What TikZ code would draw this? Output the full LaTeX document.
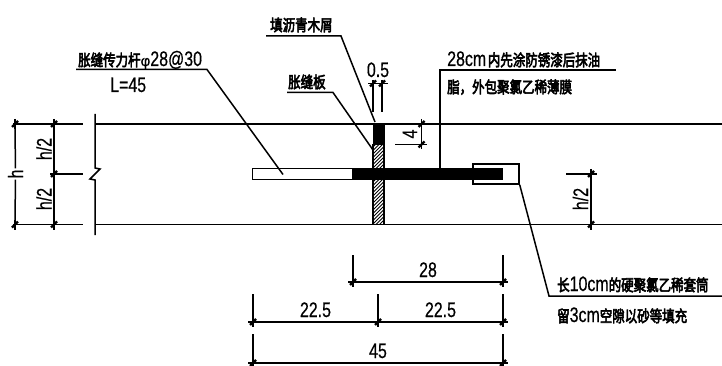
\documentclass[tikz,border=0pt]{standalone}
\usepackage{graphicx}
\usepackage{fontspec}
\setmainfont[FakeBold=0.5]{Liberation Sans}
\newfontfamily\nmf[FakeBold=0.5]{Liberation Sans}
\newfontfamily\cjkf[FakeBold=4]{Noto Sans CJK SC}
\newcommand{\zh}[1]{{\cjkf\fontsize{16}{16}\selectfont\scalebox{0.78}[1]{#1}}}
\newcommand{\nm}[1]{{\nmf\fontsize{21}{21}\selectfont\scalebox{0.76}[1]{#1}}}
\newcommand{\dtick}[1]{\draw[tickmark] ([shift={(-3,3)}]#1) -- ([shift={(3,-3)}]#1);}
\tikzset{
  ln/.style={line width=1.5pt,black},
  thin ln/.style={line width=1.4pt,black},
  tickmark/.style={line width=2.2pt,black},
  hatchline/.style={line width=0.8pt,black},
  lbl/.style={inner sep=0pt,anchor=base west},
  mid/.style={inner sep=0pt,anchor=base},
}
\begin{document}
\begin{tikzpicture}[x=1pt,y=-1pt]
\useasboundingbox (0,0) rectangle (722,366);
% slab
\coordinate (tl) at (13,124); \coordinate (tl2) at (83,124);
\coordinate (tr0) at (95,124); \coordinate (tr) at (722,124);
\coordinate (bl) at (13,224.5); \coordinate (bl2) at (83,224.5);
\coordinate (br0) at (95,224.5); \coordinate (br) at (722,224.5);
\coordinate (ml) at (50,174); \coordinate (ml2) at (83,174);
\draw[ln] (tl) -- (tl2) (tr0) -- (tr) (bl) -- (bl2) (br0) -- (br) (ml) -- (ml2);
\draw[ln] (95,114) -- (95,168) -- (100,169) -- (90,179) -- (95,180) -- (95,235);
% joint filler
\begin{scope}
\clip (373,144) rectangle (384,224.5);
\foreach \yy in {140,143.5,...,240}{\draw[hatchline] (373,\yy) -- (384,\yy-11);}
\end{scope}
\node[draw=black,line width=1.1pt,inner sep=0pt,minimum width=11pt,minimum height=80pt] (board) at (378.5,184.5) {};
\node[fill=black,inner sep=0pt,minimum width=12pt,minimum height=20pt] (fill) at (378.5,134) {};
% dowel
\node[draw=black,fill=white,line width=1.4pt,inner sep=0pt,minimum width=100pt,minimum height=10.5pt] (dowelw) at (302.5,174) {};
\node[fill=black,inner sep=0pt,minimum width=151pt,minimum height=12pt] (dowelb) at (427.5,174) {};
\node[draw=black,line width=1.4pt,inner sep=0pt,minimum width=46pt,minimum height=20pt] (sleeve) at (496,174) {};
% left dims
\coordinate (hT) at (15,124); \coordinate (hB) at (15,224.5);
\node[rotate=90,fill=white,inner sep=1pt,anchor=center] (hl) at (15.5,174) {\nm{h}};
\draw[ln] (hT) -- (hl) (hl) -- (hB);
\coordinate (h2T) at (54,124); \coordinate (h2M) at (54,174); \coordinate (h2B) at (54,224.5);
\draw[line width=1.8pt] (h2T) -- (h2M) -- (h2B);
\node[rotate=90,mid] (h2a) at (51.5,149) {\nm{h/2}};
\node[rotate=90,mid] (h2b) at (51.5,199) {\nm{h/2}};
\foreach \p in {hT,hB,h2T,h2M,h2B}{\dtick{\p}}
\draw[thin ln] (15,119) -- (15,129) (15,219.5) -- (15,229.5) (54,119) -- (54,129) (54,219.5) -- (54,229.5);
% leader 1
\coordinate (a0) at (76,69.5); \coordinate (a1) at (207,69.5); \coordinate (a2) at (283,174.5);
\draw[ln] (a0) -- (a1) -- (a2);
\node[lbl] (t1) at (78,66) {\zh{胀缝传力杆}{\nmf\fontsize{15}{15}\selectfont φ}\nm{28@30}};
\node[lbl] (t1b) at (110,92) {\nm{L=45}};
% leader 2
\coordinate (b0) at (266,36); \coordinate (b1) at (341,36); \coordinate (b2) at (375,122);
\draw[ln] (b0) -- (b1) -- (b2);
\node[lbl] (t2) at (270,31) {\zh{填沥青木屑}};
% leader 3
\coordinate (c0) at (287,92.5); \coordinate (c1) at (333,92.5); \coordinate (c2) at (373,150);
\draw[ln] (c0) -- (c1) -- (c2);
\node[lbl] (t3) at (288,88) {\zh{胀缝板}};
% 0.5
\coordinate (d1) at (373,83.5); \coordinate (d2) at (382,83.5);
\draw[ln] (368,83.5) -- (388,83.5);
\draw[ln] (373,80) -- (373,112) (382,80) -- (382,112);
\dtick{d1}\dtick{d2}
\node[mid] (t05) at (378,77) {\nm{0.5}};
% leader 4
\coordinate (e0) at (440,168); \coordinate (e1) at (440,70); \coordinate (e2) at (616,70);
\draw[ln] (e0) -- (e1) -- (e2);
\node[lbl] (t4) at (447,66) {\nm{28cm}\,\zh{内先涂防锈漆后抹油}};
\node[lbl] (t4b) at (447,93) {\zh{脂，外包聚氯乙稀薄膜}};
% 4
\coordinate (f1) at (421.5,124); \coordinate (f2) at (421.5,144.5);
\draw[ln] (421.5,119) -- (421.5,149);
\draw[ln] (395,144.5) -- (427,144.5);
\dtick{f1}\dtick{f2}
\node[rotate=90,mid] (t4d) at (417,134) {\nm{4}};
% right h/2
\coordinate (g1) at (591,174); \coordinate (g2) at (591,224.5);
\draw[ln] (591,169) -- (591,229.5);
\draw[ln] (566,174) -- (597,174);
\dtick{g1}\dtick{g2}
\node[rotate=90,mid] (t5) at (588,199) {\nm{h/2}};
% leader 5
\coordinate (k1) at (549,296); \coordinate (k2) at (722,296);
\draw[ln] (sleeve.south east) -- (k1) -- (k2);
\node[lbl] (t6a) at (557,291) {\zh{长}\nm{10cm}\zh{的硬聚氯乙稀套筒}};
\node[lbl] (t6b) at (557,322) {\zh{留}\nm{3cm}\zh{空隙以砂等填充}};
% bottom dims
\coordinate (m1) at (353,282); \coordinate (m2) at (503,282);
\draw[ln] (348,282) -- (508,282) (353,255) -- (353,287) (503,255) -- (503,287);
\dtick{m1}\dtick{m2}
\node[mid] (t28) at (428,277) {\nm{28}};
\coordinate (n1) at (253,322); \coordinate (n2) at (378,322); \coordinate (n3) at (503,322);
\draw[ln] (248,322) -- (508,322) (253,294) -- (253,327) (378,294) -- (378,327) (503,294) -- (503,327);
\dtick{n1}\dtick{n2}\dtick{n3}
\node[mid] (t225a) at (315.5,317) {\nm{22.5}};
\node[mid] (t225b) at (440.5,317) {\nm{22.5}};
\coordinate (o1) at (253,363); \coordinate (o2) at (503,363);
\draw[ln] (248,363) -- (508,363) (253,334) -- (253,366) (503,334) -- (503,366);
\dtick{o1}\dtick{o2}
\node[mid] (t45) at (378,358) {\nm{45}};
\end{tikzpicture}
\end{document}
